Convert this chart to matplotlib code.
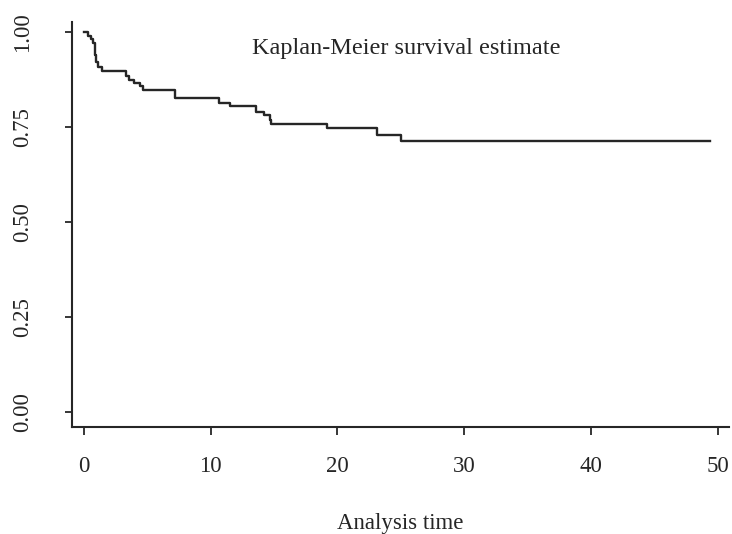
import matplotlib
matplotlib.use('Agg')
import matplotlib.pyplot as plt

'''
Kaplan-Meier survival estimate (step curve)
'''
plt.rcParams['font.family'] = ['Liberation Serif', 'DejaVu Serif']

# event times and survival after each event
times = [0, 0.3, 0.6, 0.75, 0.87, 0.92, 0.97, 1.1, 1.4, 3.3, 3.6, 4.0, 4.4, 4.7,
         7.2, 10.7, 11.5, 13.6, 14.2, 14.7, 14.8, 19.2, 23.1, 25.0, 49.4]
surv = [1.0, 0.99, 0.98, 0.97, 0.955, 0.94, 0.92, 0.908, 0.896, 0.885, 0.874,
        0.865, 0.857, 0.847, 0.826, 0.812, 0.805, 0.79, 0.782, 0.768, 0.758,
        0.747, 0.729, 0.714, 0.714]
xticks = [0, 10, 20, 30, 40, 50]
yticks = [0.0, 0.25, 0.5, 0.75, 1.0]
ylabels = ['0.00', '0.25', '0.50', '0.75', '1.00']

ink = '#262626'
fig = plt.figure(figsize=(7.32, 5.34), dpi=100)
ax = fig.add_axes([0.098, 0.2, 0.898, 0.759])

ax.plot(times, surv, drawstyle='steps-post', color=ink, lw=1.7)

ax.set_xlim(-0.95, 50.9)
ax.set_ylim(-0.039, 1.026)
ax.set_xticks(xticks)
ax.set_yticks(yticks)
ax.set_yticklabels(ylabels, rotation=90, va='center')
ax.tick_params(axis='x', length=6, width=1.3, pad=15, labelsize=16.5, colors=ink)
ax.tick_params(axis='y', length=5, width=1.3, pad=23, labelsize=16.5, colors=ink)

for s in ['top', 'right']:
    ax.spines[s].set_visible(False)
for s in ['left', 'bottom']:
    ax.spines[s].set_color(ink)
    ax.spines[s].set_linewidth(1.5)

ax.text(25.4, 0.955, 'Kaplan-Meier survival estimate', ha='center', va='center',
        fontsize=17.5, color=ink)
ax.set_xlabel('Analysis time', fontsize=16.5, color=ink, labelpad=26)

fig.savefig('out.png', dpi=100)
